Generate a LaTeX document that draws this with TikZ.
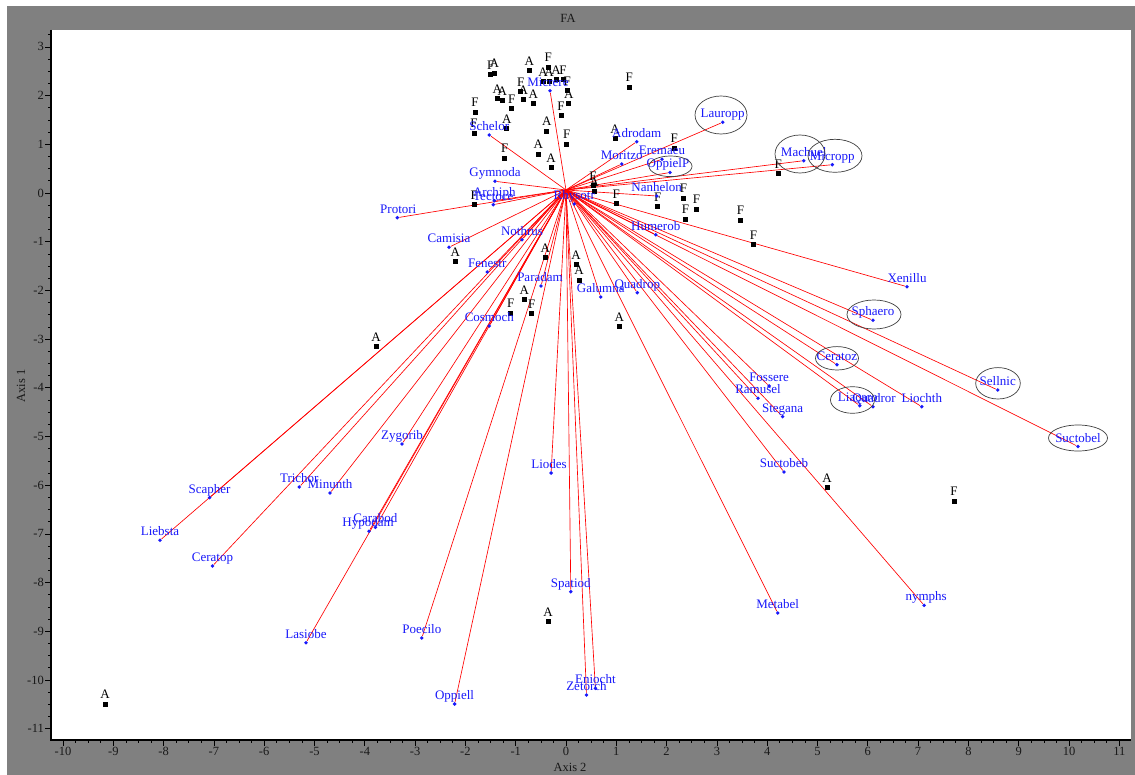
\documentclass[tikz,border=0pt]{standalone}
\usepackage{fontspec}
\setmainfont{Liberation Serif}
\definecolor{framegray}{RGB}{128,128,128}
\definecolor{splue}{RGB}{25,25,250}
\pgfdeclarelayer{frame}
\pgfdeclarelayer{vecs}
\pgfsetlayers{frame,vecs,main}
\tikzset{
  vec/.style={red, line width=0.65pt},
  spdot/.style={circle, fill=splue, inner sep=0pt, minimum size=3.8pt},
  splbl/.style={text=splue, anchor=base, inner sep=0pt, font=\fontsize{13}{15}\selectfont},
  smp/.style={rectangle, fill=black, inner sep=0pt, minimum size=5pt},
  smplbl/.style={text=black, anchor=base, inner sep=0pt, font=\fontsize{13}{15}\selectfont},
  ring/.style={draw=black!75, line width=0.7pt},
  axisline/.style={black, line width=1.6pt},
  tickmark/.style={black, line width=0.7pt},
  ticklbl/.style={text=black!90, inner sep=1pt, font=\fontsize{12.5}{14}\selectfont}
}
% species: name/x/y/label/label shift
\newcommand\speclist{lauropp/722.7/122.3/Lauropp/0, adrodam/636.7/141.7/Adrodam/0,
  moritzo/621.7/164/Moritzo/0, eremaeu/662/159.3/Eremaeu/0, oppielp/670/172.5/OppielP/-2,
  machuel/803.7/160.7/Machuel/0, micropp/832.3/164.7/Micropp/0, nanhelon/656.7/196/Nanhelon/0,
  humerob/655.7/234.7/Humerob/0, xenillu/907/286.7/Xenillu/0, sphaero/873/320.3/Sphaero/0,
  ceratoz/836.9/364.7/Ceratoz/0, sellnic/997.7/390/Sellnic/0, suctobel/1078/446.5/Suctobel/0,
  liochth/921.8/406.7/Liochth/0, liacaro/859.8/405.7/Liacaro/-2, quadror/873/406.7/Quadror/1,
  fossere/769.1/386/Fossere/0, ramusel/758/398.3/Ramusel/0, stegana/782.6/416.7/Stegana/0,
  suctobeb/784/472/Suctobeb/0, metabel/777.7/613/Metabel/0, nymphs/924.1/605.3/nymphs/2,
  quadrop/637.3/292.7/Quadrop/0, galumna/600.7/297/Galumna/0, zetorch/586.5/695/Zetorch/0,
  eniocht/595.4/688.3/Eniocht/0, spatiod/570.8/591.7/Spatiod/0, liodes/551.1/473/Liodes/-2,
  paradam/541/286/Paradam/-1, oppiell/454.6/704/Oppiell/0, poecilo/421.8/638/Poecilo/0,
  lasiobe/306/642.7/Lasiobe/0, carabod/375.4/527.3/Carabod/0, hypodam/369/531.3/Hypodam/-1,
  cosmoch/489.3/326/Cosmoch/0, zygorib/402/444/Zygorib/0, minunth/330/493/Minunth/0,
  trichor/299.3/487/Trichor/0, ceratop/212.5/566/Ceratop/0, scapher/209.6/497.7/Scapher/0,
  liebsta/160/540.3/Liebsta/0, fenestr/487.3/272/Fenestr/0, nothrus/522/239.7/Nothrus/0,
  camisia/449/247.3/Camisia/0, protori/397.3/217.7/Protori/1, tectoce/493.3/204.7/Tectoce/0,
  archiph/494.3/200.7/Archiph/0, gymnoda/495/181.3/Gymnoda/0, schelor/489.3/135/Schelor/0,
  micrere/550/90.7/Micrere/-2, rhysotr/574.3/204/Rhysotr/0}
% samples: x/y/group
\newcommand\samplist{490.7/75/F, 494.3/73.3/A, 529.3/71/A, 548.3/67.3/F, 543/82/A, 549/82/A,
  556/80/A, 563/80/F, 567.3/90.7/F, 568.7/103.7/A, 520.7/91.7/F, 523.3/100/A, 533.3/103.7/A,
  497.3/99/A, 502.3/101/A, 511.7/109/F, 475/112.3/F, 474/133.3/F, 506.7/129/A, 546.7/131.3/A,
  561/115.7/F, 566.7/144.3/F, 538.3/154.3/A, 629.3/87.3/F, 615/139/A, 504.7/158.3/F,
  551/168/A, 474.3/205/F, 593/186/F, 594.3/191.7/A, 616.3/204/F, 657.7/207/F, 683.5/198.5/F,
  696.5/209.3/F, 685.5/219.3/F, 740.5/220.5/F, 753.5/245/F, 674.3/148.5/F, 778.3/174/F,
  455.3/261.7/A, 545.3/257.7/A, 576/264.7/A, 579/280.3/A, 524.3/300/A, 510.7/313.3/F,
  531.7/314/F, 619.3/326.7/A, 376/346.7/A, 827/487.7/A, 954/501/F, 548/621.7/A, 105/704.3/A}
\begin{document}
\begin{tikzpicture}[x=1pt,y=-1pt]
\useasboundingbox (0,0) rectangle (1135,775);
\begin{pgfonlayer}{frame}
  \fill[white] (0,0) rectangle (1135,775);
  \fill[framegray] (7,6) rectangle (1135,775);
  \fill[white] (51,30) rectangle (1131,740);
\end{pgfonlayer}
\node[ticklbl] (title) at (568,18) {FA};
% axes
\draw[axisline] (51,30) -- (51,740) -- (1131,740);
\foreach \i in {-10,...,11} {
  \draw[tickmark] ({566+50.3*(\i)},740) -- ++(0,6);
  \node[ticklbl, anchor=north] (xt\i) at ({566+50.3*(\i)},746) {\i};
}
\foreach \k in {-40,...,44}
  \draw[tickmark] ({566+50.3*(\k)/4},740) -- ++(0,3);
\foreach \j in {-11,...,3} {
  \draw[tickmark] (51,{193-48.7*(\j)}) -- ++(-6,0);
  \node[ticklbl, anchor=east] (yt\j) at (45,{193-48.7*(\j)}) {\j};
}
\foreach \k in {-44,...,13}
  \draw[tickmark] (51,{193-48.7*(\k)/4}) -- ++(-3,0);
\node[ticklbl] (xname) at (570,767) {Axis 2};
\node[ticklbl, rotate=90] (yname) at (21,386) {Axis 1};
% samples
\foreach \x/\y/\t [count=\i] in \samplist {
  \node[smp] (s\i) at (\x,\y) {};
  \node[smplbl] (s\i-l) at ([yshift=5.5pt]s\i.center) {\t};
}
% species vectors
\coordinate (o) at (566,190);
\foreach \n/\x/\y/\t/\dx in \speclist {
  \node[spdot] (\n) at (\x,\y) {};
  \node[splbl] (\n-l) at ([xshift=\dx pt, yshift=4.5pt]\n.center) {\t};
  \begin{pgfonlayer}{vecs}
    \draw[vec] (o) -- (\n);
  \end{pgfonlayer}
}
% circled species
\draw[ring] (721,115) ellipse [x radius=26pt, y radius=19pt];
\draw[ring] (670.5,166.3) ellipse [x radius=21.5pt, y radius=10.3pt];
\draw[ring] (800,154) ellipse [x radius=25pt, y radius=19pt];
\draw[ring] (835,155.8) ellipse [x radius=27pt, y radius=16.5pt];
\draw[ring] (874,314.5) ellipse [x radius=27pt, y radius=14.5pt];
\draw[ring] (837,358.3) ellipse [x radius=21.5pt, y radius=11.7pt];
\draw[ring] (852.5,400) ellipse [x radius=22pt, y radius=13.3pt];
\draw[ring] (998,383.3) ellipse [x radius=22.3pt, y radius=15.7pt];
\draw[ring] (1078,438) ellipse [x radius=29.5pt, y radius=13pt];
\end{tikzpicture}
\end{document}
